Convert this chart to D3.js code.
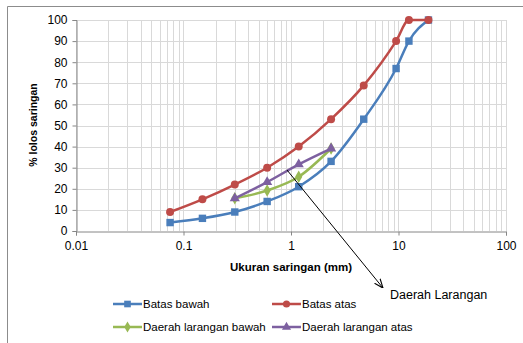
<!DOCTYPE html>
<html><head><meta charset="utf-8">
<script src="https://cdn.jsdelivr.net/npm/d3@7"></script>
<style>body{margin:0;background:#fff}svg{display:block;font-family:"Liberation Sans",Arial,sans-serif}</style>
</head><body><svg id="c" width="523" height="343"></svg>
<script>
const sieves = [0.075, 0.15, 0.3, 0.6, 1.18, 2.36, 4.75, 9.5, 12.5, 19];
const batasBawah = [4, 6, 9, 14, 21, 33, 53, 77, 90, 100];
const batasAtas = [9, 15, 22, 30, 40, 53, 69, 90, 100, 100];
const laranganSieves = [0.3, 0.6, 1.18, 2.36];
const laranganBawah = [15.5, 19.2, 25.7, 39.1];
const laranganAtas = [15.5, 23.2, 31.6, 39.1];
const xTicks = [0.01, 0.1, 1, 10, 100];
const yTicks = [0,10,20,30,40,50,60,70,80,90,100];

const series = [
  {name:"Batas bawah", xs:sieves, ys:batasBawah, color:"#4a7ebb", sym:"square"},
  {name:"Batas atas", xs:sieves, ys:batasAtas, color:"#be4b48", sym:"circle"},
  {name:"Daerah larangan bawah", xs:laranganSieves, ys:laranganBawah, color:"#98b954", sym:"diamond"},
  {name:"Daerah larangan atas", xs:laranganSieves, ys:laranganAtas, color:"#7d60a0", sym:"triangle"}
];

const svg = d3.select("#c");
const x = d3.scaleLog().domain([0.01,100]).range([76,506]);
const y = d3.scaleLinear().domain([0,100]).range([231,20]);

// outer border
svg.append("path").attr("d","M7.5,343 V6.5 H523").attr("fill","none").attr("stroke","#8c8c8c").attr("stroke-width",1);

// grid
const minor = [];
for (let d=0.01; d<100; d*=10) for (let k=1;k<10;k++) minor.push(+(d*k).toPrecision(3));
minor.push(100);
svg.append("g").selectAll("line").data(minor).join("line")
  .attr("x1",d=>Math.round(x(d))+0.5).attr("x2",d=>Math.round(x(d))+0.5)
  .attr("y1",y(0)).attr("y2",y(100)).attr("stroke","#d9d9d9").attr("stroke-width",1);
svg.append("g").selectAll("line").data(yTicks.slice(1)).join("line")
  .attr("x1",x(0.01)).attr("x2",x(100))
  .attr("y1",d=>Math.round(y(d))+0.5).attr("y2",d=>Math.round(y(d))+0.5).attr("stroke","#d9d9d9");

// axes
const xa = svg.append("g").attr("transform",`translate(0,${Math.round(y(0))+0.5})`)
  .call(d3.axisBottom(x).tickValues(xTicks).tickFormat(d=>String(d)).tickSize(4).tickPadding(6));
const ya = svg.append("g").attr("transform",`translate(${Math.round(x(0.01))+0.5},0)`)
  .call(d3.axisLeft(y).tickValues(yTicks).tickSize(4).tickPadding(5));
[xa,ya].forEach(g=>{
  g.select(".domain").attr("stroke","#868686");
  g.selectAll(".tick line").attr("stroke","#868686");
  g.selectAll("text").attr("font-size",12).attr("fill","#000").attr("font-family","Liberation Sans, Arial, sans-serif");
});

// axis titles
svg.append("text").attr("x",291).attr("y",271).attr("text-anchor","middle")
  .attr("font-size",11.5).attr("font-weight","bold").text("Ukuran saringan  (mm)");
svg.append("text").attr("transform","translate(37,125) rotate(-90)").attr("text-anchor","middle")
  .attr("font-size",10.5).attr("font-weight","bold").text("% lolos saringan");

// lines
const symType = {square:d3.symbolSquare, circle:d3.symbolCircle, diamond:d3.symbolDiamond, triangle:d3.symbolTriangle};
const symSize = {square:55, circle:50, diamond:45, triangle:45};
series.forEach(s=>{
  const pts = s.xs.map((v,i)=>[v,s.ys[i]]);
  svg.append("path").datum(pts)
    .attr("d",d3.line().x(d=>x(d[0])).y(d=>y(d[1])).curve(d3.curveMonotoneX))
    .attr("fill","none").attr("stroke",s.color).attr("stroke-width",2.5);
  svg.append("g").selectAll("path").data(pts).join("path")
    .attr("transform",d=>`translate(${x(d[0])},${y(d[1])})`)
    .attr("d",d3.symbol().type(symType[s.sym]).size(symSize[s.sym]))
    .attr("fill",s.color);
});

// annotation arrow
svg.append("defs").append("marker").attr("id","ah").attr("viewBox","0 0 10 10").attr("refX",10).attr("refY",5)
  .attr("markerWidth",9).attr("markerHeight",9).attr("orient","auto")
  .append("path").attr("d","M0,1 L10,5 L0,9").attr("fill","none").attr("stroke","#000").attr("stroke-width",1.2);
svg.append("line").attr("x1",287).attr("y1",170).attr("x2",383).attr("y2",288)
  .attr("stroke","#000").attr("stroke-width",1).attr("marker-end","url(#ah)");
svg.append("text").attr("x",390).attr("y",299).attr("font-size",12.5).text("Daerah Larangan");

// legend
const leg = [[113,304],[272,304],[113,327],[272,327]];
series.forEach((s,i)=>{
  const [lx,ly]=leg[i];
  const g = svg.append("g");
  g.append("line").attr("x1",lx).attr("x2",lx+29).attr("y1",ly).attr("y2",ly).attr("stroke",s.color).attr("stroke-width",2.5);
  g.append("path").attr("transform",`translate(${lx+14.5},${ly})`)
    .attr("d",d3.symbol().type(symType[s.sym]).size(symSize[s.sym]*0.8)).attr("fill",s.color);
  g.append("text").attr("x",lx+30).attr("y",ly+4).attr("font-size",11.5).text(s.name);
});
</script></body></html>
